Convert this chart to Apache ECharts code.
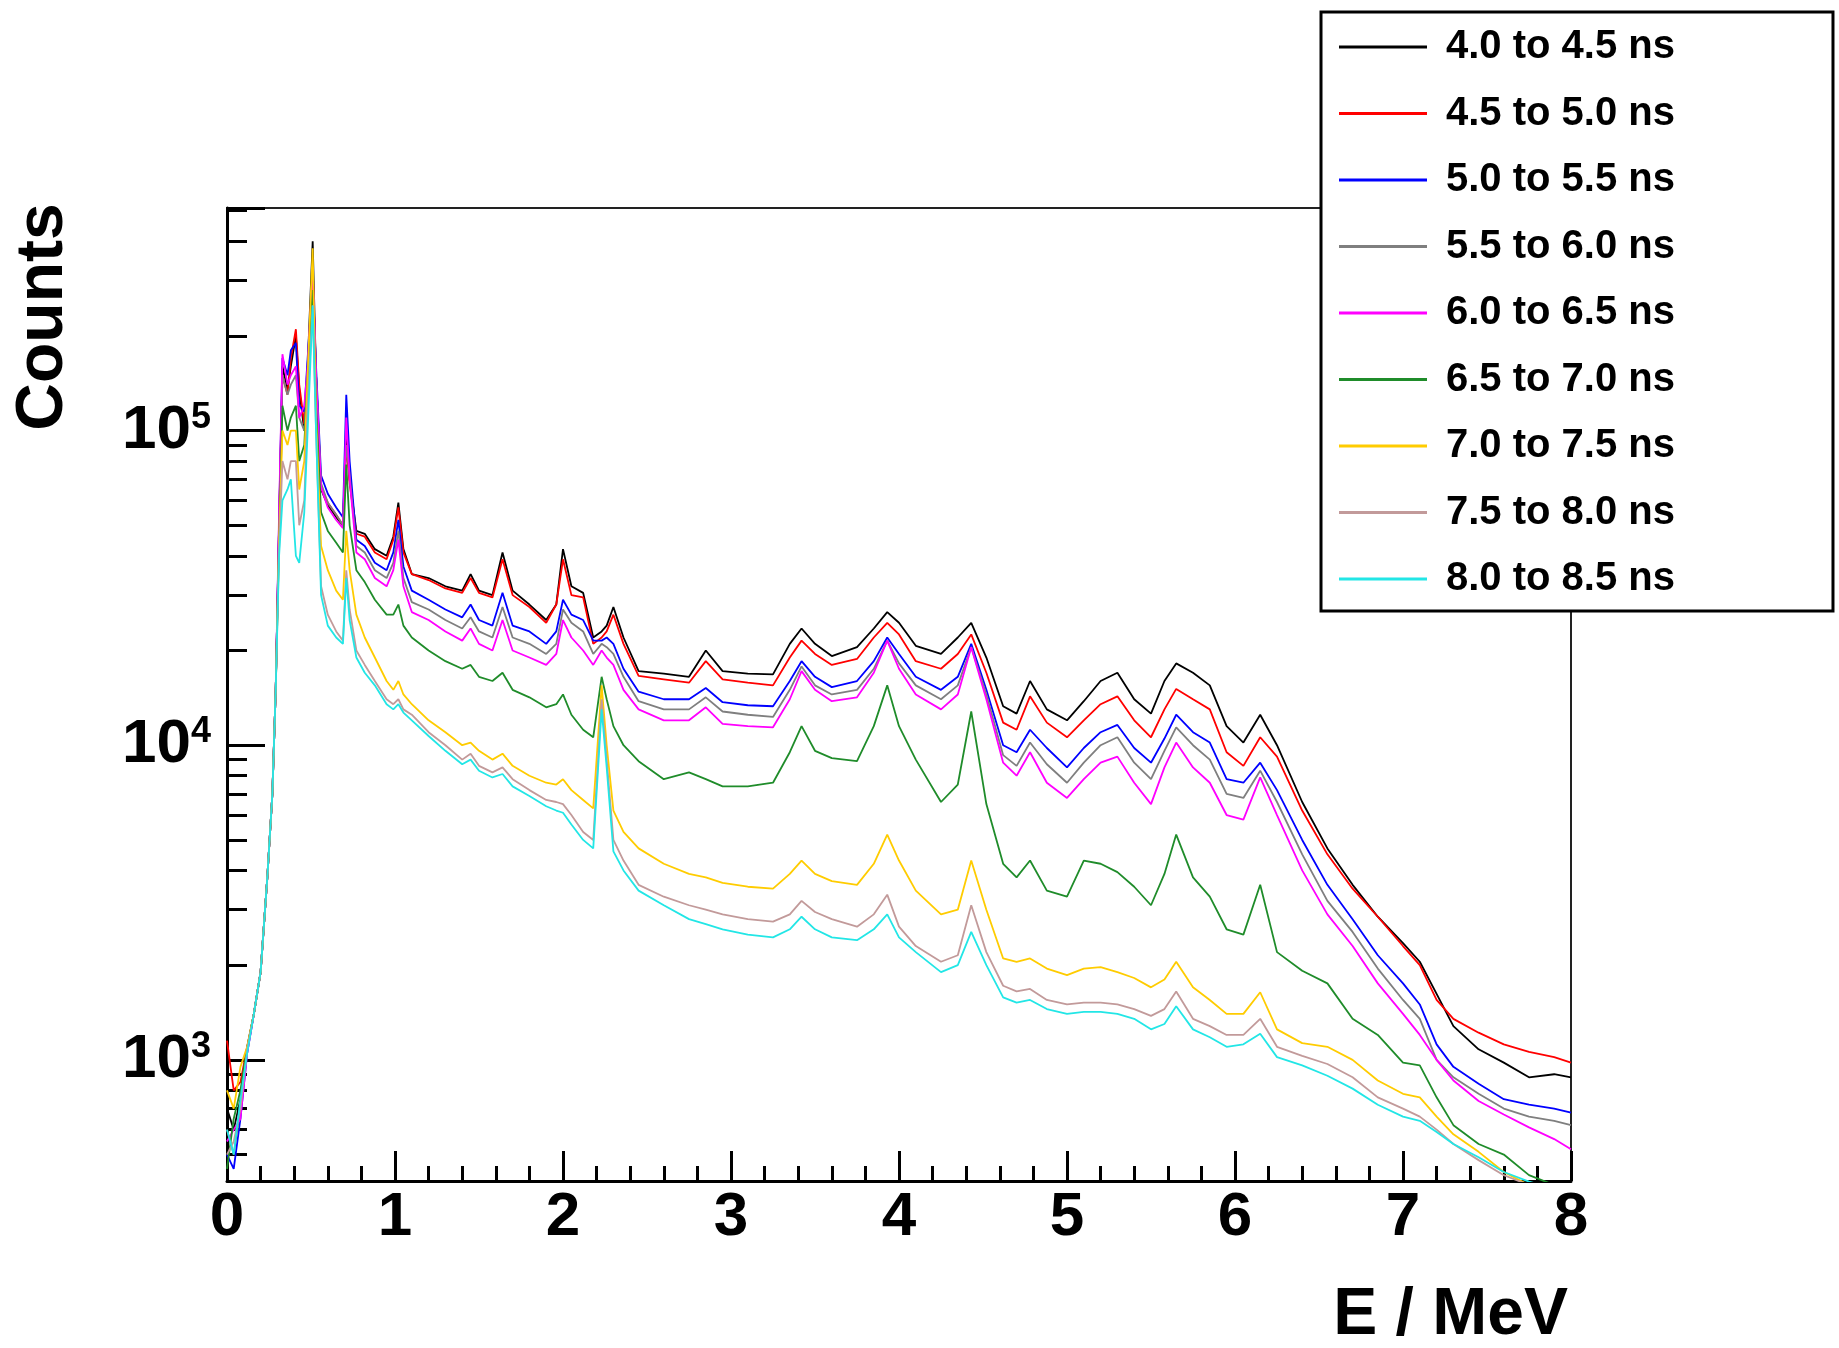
<!DOCTYPE html>
<html>
<head>
<meta charset="utf-8">
<script src="https://cdn.jsdelivr.net/npm/echarts@6/dist/echarts.min.js"></script>
<style>
html,body{margin:0;padding:0;background:#ffffff;}
#chart{width:1839px;height:1348px;}
</style>
</head>
<body>
<div id="chart"></div>
<script>
// ---------- data ----------
const energy = [
  0.00,0.04,0.08,0.12,0.16,0.20,0.24,0.27,0.29,0.31,
  0.33,0.36,0.38,0.41,0.43,0.46,0.48,0.51,0.53,0.56,
  0.60,0.65,0.69,0.71,0.73,0.77,0.82,0.88,0.95,0.99,
  1.02,1.05,1.10,1.20,1.30,1.40,1.45,1.50,1.58,1.64,
  1.70,1.80,1.90,1.96,2.00,2.05,2.12,2.18,2.23,2.26,
  2.30,2.36,2.45,2.60,2.75,2.85,2.95,3.10,3.25,3.35,
  3.42,3.50,3.60,3.75,3.85,3.93,4.00,4.10,4.25,4.35,
  4.43,4.52,4.62,4.70,4.78,4.88,5.00,5.10,5.20,5.30,
  5.40,5.50,5.58,5.65,5.75,5.85,5.95,6.05,6.15,6.25,
  6.40,6.55,6.70,6.85,7.00,7.10,7.20,7.30,7.45,7.60,
  7.75,7.90,8.00
];

const seriesNames = [
  '4.0 to 4.5 ns','4.5 to 5.0 ns','5.0 to 5.5 ns','5.5 to 6.0 ns','6.0 to 6.5 ns',
  '6.5 to 7.0 ns','7.0 to 7.5 ns','7.5 to 8.0 ns','8.0 to 8.5 ns'
];

const seriesColors = ['#000000','#ff0000','#0000ff','#7f7f7f','#ff00ff','#1f8c2a','#ffcc00','#c29a9a','#22e6e6'];

const counts_4_0 = [
  700,600,750,1080,1400,1900,3800,7000,15000,50000,
  160000,135000,160000,200000,135000,100000,160000,400000,150000,65000,
  58000,53000,50000,100000,70000,48000,47000,42000,40000,46000,
  59000,42000,35000,34000,32000,31000,35000,31000,30000,41000,
  31000,28000,25000,28000,42000,32000,30500,22000,23000,24000,
  27500,22000,17200,16900,16500,20000,17200,16900,16800,21000,
  23500,21000,19200,20500,23500,26500,24500,20700,19500,22000,
  24500,19000,13300,12600,16000,13000,12000,13800,16000,17000,
  14000,12600,16000,18200,17000,15500,11500,10200,12500,10000,
  6600,4700,3600,2850,2350,2050,1620,1280,1080,980,
  880,900,880
];
const counts_4_5 = [
  1150,800,850,1100,1400,1900,3800,7000,15000,50000,
  150000,130000,170000,210000,140000,105000,150000,320000,150000,66000,
  59000,54000,50000,90000,68000,47000,46000,41000,39000,45000,
  57000,41000,35000,33500,31500,30500,34000,30500,29500,39000,
  30000,27500,24500,28000,39000,30000,29500,21000,22000,23000,
  26000,21000,16600,16200,15800,18500,16200,15800,15500,19000,
  21500,19500,18000,18800,22000,24500,22500,18500,17500,19500,
  22500,17000,11800,11200,14300,11800,10600,12000,13500,14300,
  12000,10600,13000,15100,14000,13000,9500,8600,10600,9200,
  6200,4500,3500,2850,2300,2000,1550,1350,1220,1120,
  1060,1020,980
];
const counts_5_0 = [
  500,450,650,1050,1400,1900,3800,7000,15000,52000,
  170000,150000,180000,190000,120000,115000,170000,300000,160000,72000,
  63000,57000,53000,130000,80000,45000,43000,38000,36000,41000,
  52000,37000,31000,29000,27000,25500,28000,25000,24000,30500,
  24000,23000,21000,23000,29000,26000,25000,21500,21500,22000,
  21000,17500,14800,14000,14000,15200,13700,13400,13300,16000,
  18500,16500,15300,16000,18500,22000,19500,16500,15000,16500,
  21000,15000,10000,9500,11200,9800,8500,9800,11000,11600,
  9800,8800,10500,12500,11000,10200,7800,7600,8800,7200,
  5000,3600,2800,2150,1750,1500,1120,950,840,750,
  720,700,680
];
const counts_5_5 = [
  600,500,700,1080,1400,1900,3800,7000,15000,48000,
  150000,130000,140000,150000,110000,100000,150000,310000,150000,68000,
  59000,54000,50000,90000,72000,43000,41000,36000,34000,38000,
  48000,34000,28500,27000,25000,23500,25500,23000,22000,27500,
  22000,21000,19500,21000,27000,24500,23000,19500,21000,20500,
  19500,16500,13800,13000,13000,14200,12800,12500,12300,15000,
  17800,15500,14500,15000,17500,21500,18200,15500,14000,15500,
  20500,14500,9300,8600,10200,8700,7600,8800,10000,10600,
  8800,7800,9600,11400,10000,9000,7000,6800,8300,6600,
  4500,3200,2550,1950,1550,1350,1000,880,780,700,
  660,640,620
];
const counts_6_0 = [
  550,600,650,1050,1400,1900,3800,7000,15000,55000,
  175000,140000,150000,160000,110000,120000,160000,330000,150000,66000,
  57000,52000,49000,110000,70000,41000,39000,34000,32000,36000,
  45000,32000,26500,25000,23000,21500,23500,21000,20000,25000,
  20000,19000,18000,19500,25000,22000,20000,18000,20000,19000,
  18000,15000,13000,12000,12000,13200,11700,11500,11400,14000,
  17200,15000,13800,14200,17000,21500,17500,14500,13000,14500,
  20500,14000,8800,8000,9500,7600,6800,7800,8800,9200,
  7600,6500,8500,10200,8500,7600,6000,5800,7900,6000,
  4000,2900,2300,1750,1400,1200,1000,860,740,670,
  610,560,520
];
const counts_6_5 = [
  450,650,800,1100,1400,1900,3800,7000,15000,45000,
  120000,100000,110000,120000,80000,90000,150000,280000,120000,55000,
  48000,44000,41000,78000,50000,36000,33000,29000,26000,26000,
  28000,24000,22000,20000,18500,17500,18000,16500,16000,17000,
  15000,14200,13200,13500,14500,12500,11200,10600,16500,14000,
  11500,10000,8900,7800,8200,7800,7400,7400,7600,9500,
  11500,9600,9100,8900,11500,15500,11500,9000,6600,7500,
  12800,6500,4200,3800,4300,3450,3300,4300,4200,3950,
  3550,3100,3900,5200,3800,3300,2600,2500,3600,2200,
  1920,1750,1350,1200,980,960,760,620,540,500,
  430,400,390
];
const counts_7_0 = [
  800,700,950,1100,1400,1900,3800,7000,15000,45000,
  100000,90000,100000,100000,65000,80000,150000,380000,110000,43000,
  36000,31000,29000,48000,36000,26000,22000,19000,16000,15000,
  16000,14500,13500,12000,11000,10000,10200,9600,9000,9400,
  8600,8000,7600,7500,7800,7200,6700,6300,15500,10000,
  6200,5300,4700,4200,3900,3800,3650,3550,3500,3900,
  4300,3900,3700,3600,4200,5200,4300,3450,2900,3000,
  4300,3000,2100,2050,2100,1950,1860,1950,1970,1900,
  1820,1700,1800,2050,1700,1550,1400,1400,1640,1250,
  1130,1100,1000,860,780,760,660,580,510,440,
  400,390,380
];
const counts_7_5 = [
  500,550,700,1080,1400,1900,3800,7000,15000,42000,
  80000,70000,80000,80000,50000,60000,120000,250000,100000,32000,
  26000,23000,21500,36000,27000,20000,18000,16000,14000,13500,
  14000,13000,12500,11000,10000,9000,9400,8600,8200,8500,
  7800,7200,6700,6600,6500,6000,5300,5000,14000,9000,
  5000,4300,3600,3300,3100,3000,2900,2800,2750,2900,
  3200,2950,2800,2650,2900,3350,2650,2300,2050,2150,
  3100,2200,1720,1650,1680,1550,1500,1520,1520,1500,
  1450,1380,1450,1650,1350,1280,1200,1200,1350,1100,
  1030,970,880,760,700,660,600,540,480,430,
  400,380,370
];
const counts_8_0 = [
  600,500,750,1050,1400,1900,3800,7000,15000,40000,
  60000,65000,70000,40000,38000,55000,100000,250000,100000,30000,
  24000,22000,21000,34000,25000,19000,17000,15500,13500,13000,
  13500,12700,12000,10700,9600,8700,9000,8300,7900,8100,
  7400,6900,6400,6200,6100,5600,5000,4700,13000,8500,
  4600,4000,3450,3100,2800,2700,2600,2500,2450,2600,
  2850,2600,2450,2400,2600,2900,2450,2200,1900,2000,
  2550,2000,1580,1520,1550,1450,1400,1420,1420,1400,
  1350,1250,1300,1480,1250,1180,1100,1120,1210,1020,
  960,890,810,720,660,640,590,540,490,440,
  410,390,380
];

const allCounts = [counts_4_0,counts_4_5,counts_5_0,counts_5_5,counts_6_0,counts_6_5,counts_7_0,counts_7_5,counts_8_0];

const xTickLabels = ['0','1','2','3','4','5','6','7','8'];
const yDecadeLabels = [1000, 10000, 100000];
const xAxisTitle = 'E / MeV';
const yAxisTitle = 'Counts';

// ---------- chart ----------
const FONT = '"Liberation Sans", Arial, Helvetica, sans-serif';
const chart = echarts.init(document.getElementById('chart'), null, {renderer: 'canvas'});

const series = seriesNames.map((name, i) => ({
  name: name,
  type: 'line',
  data: energy.map((e, k) => [e, allCounts[i][k]]),
  symbol: 'none',
  showSymbol: false,
  clip: true,
  lineStyle: {color: seriesColors[i], width: 1.8},
  itemStyle: {color: seriesColors[i]},
  z: 3
}));

const option = {
  animation: false,
  backgroundColor: '#ffffff',
  grid: {
    left: 227, right: 268, top: 208, bottom: 167,
    show: true, borderColor: '#222', borderWidth: 2, backgroundColor: 'transparent'
  },
  xAxis: {
    type: 'value', min: 0, max: 8, interval: 1,
    axisLine: {show: true, onZero: false, lineStyle: {color: '#000', width: 3}},
    axisTick: {show: true, inside: true, length: 30, lineStyle: {color: '#000', width: 3}},
    minorTick: {show: true, splitNumber: 5, length: 15, lineStyle: {color: '#000', width: 3}},
    splitLine: {show: false},
    axisLabel: {
      margin: 6, color: '#000', fontSize: 62, fontWeight: 'bold', fontFamily: FONT,
      formatter: v => xTickLabels[Math.round(v)] ?? ''
    }
  },
  yAxis: {
    type: 'log', logBase: 10, min: 412, max: 510000,
    axisLine: {show: true, onZero: false, lineStyle: {color: '#000', width: 3}},
    axisTick: {show: true, inside: true, length: 38, lineStyle: {color: '#000', width: 3}},
    minorTick: {show: true, splitNumber: 9, length: 20, lineStyle: {color: '#000', width: 3}},
    splitLine: {show: false},
    axisLabel: {
      margin: 16, color: '#000',
      formatter: v => {
        const hit = yDecadeLabels.find(d => Math.abs(d - v) < d * 1e-6);
        if (!hit) return '';
        return '{b|10}{s|' + Math.round(Math.log10(hit)) + '}';
      },
      rich: {
        b: {fontSize: 62, fontWeight: 'bold', fontFamily: FONT, color: '#000', lineHeight: 62, verticalAlign: 'bottom', padding: [24, 0, 0, 0]},
        s: {fontSize: 36, fontWeight: 'bold', fontFamily: FONT, color: '#000', lineHeight: 36, verticalAlign: 'top'}
      }
    }
  },
  legend: {
    orient: 'vertical',
    left: 1321, top: 12,
    padding: [15, 158, 12, 18],
    itemWidth: 88, itemHeight: 3, itemGap: 26.5,
    icon: 'rect',
    backgroundColor: '#ffffff', borderColor: '#000', borderWidth: 3, borderRadius: 0,
    textStyle: {fontSize: 40, fontWeight: 'bold', fontFamily: FONT, color: '#000', lineHeight: 40, padding: [0, 0, 0, 14]},
    data: seriesNames,
    z: 10
  },
  graphic: [
    {
      type: 'text', x: 44, y: 317, rotation: Math.PI / 2, z: 10,
      style: {text: yAxisTitle, fontSize: 66, fontWeight: 'bold', fontFamily: FONT, fill: '#000', align: 'center', verticalAlign: 'middle'}
    },
    {
      type: 'text', x: 1568, y: 1316, z: 10,
      style: {text: xAxisTitle, fontSize: 66, fontWeight: 'bold', fontFamily: FONT, fill: '#000', align: 'right', verticalAlign: 'middle'}
    }
  ],
  series: series
};

chart.setOption(option);
</script>
</body>
</html>
